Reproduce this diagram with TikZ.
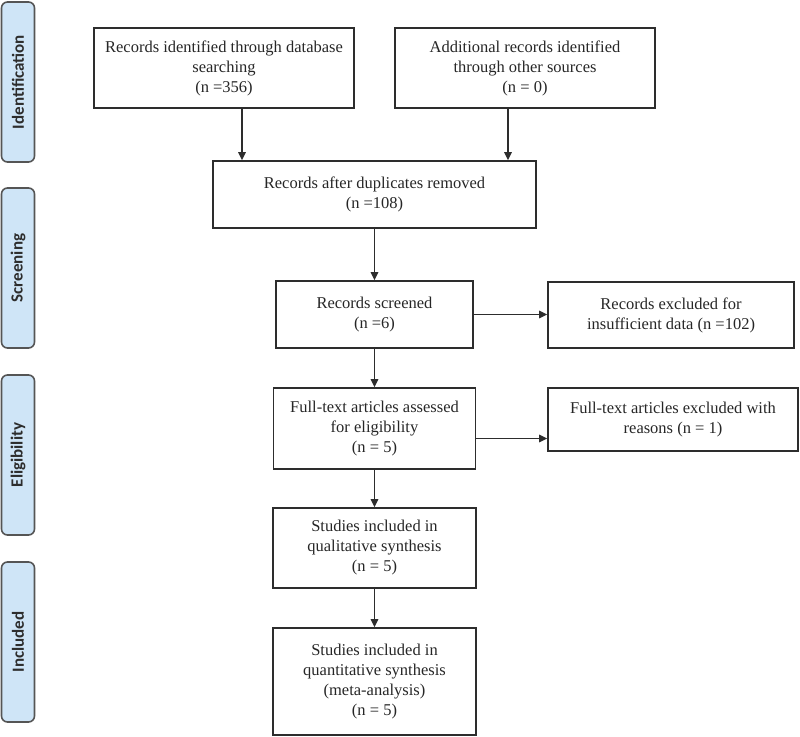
\documentclass[tikz,border=0pt]{standalone}
\usepackage{fontspec}
\setmainfont{Liberation Serif}
\newfontfamily\sidefont{Carlito}
\usetikzlibrary{arrows.meta}
\definecolor{sidefill}{RGB}{207,229,247}
\definecolor{sideline}{RGB}{85,85,85}
\definecolor{boxline}{RGB}{45,45,45}
\definecolor{sidetext}{RGB}{45,45,45}
\begin{document}
\begin{tikzpicture}[x=1pt,y=-1pt,
  box/.style={draw=boxline,line width=1.6pt,align=center,inner sep=2pt,
    font=\fontsize{16.5}{20}\selectfont,text=black!85},
  side/.style={draw=sideline,fill=sidefill,line width=1.6pt,rounded corners=6pt,
    minimum width=33pt,minimum height=160pt,inner sep=0pt},
  sidelabel/.style={rotate=90,font=\sidefont\bfseries\fontsize{17}{20}\selectfont,text=sidetext},
  arr/.style={draw=boxline,line width=1.5pt,-{Triangle[length=8pt,width=7.5pt]}}]
\useasboundingbox (0,0) rectangle (800,736);
% side bars
\node[side] (s1) at (18,82) {};
\node[sidelabel] (l1) at (s1.center) {Identification};
\node[side] (s2) at (18,268) {};
\node[sidelabel] (l2) at (s2.center) {Screening};
\node[side] (s3) at (18,455) {};
\node[sidelabel] (l3) at (s3.center) {Eligibility};
\node[side] (s4) at (18,642) {};
\node[sidelabel] (l4) at (s4.center) {Included};
% boxes
\node[box,minimum width=260pt,minimum height=80pt] (db) at (224,68)
  {Records identified through database\\searching\\(n =356)};
\node[box,minimum width=260pt,minimum height=80pt] (oth) at (525,68)
  {Additional records identified\\through other sources\\(n = 0)};
\node[box,minimum width=323pt,minimum height=67pt] (dup) at (374.5,194.5)
  {Records after duplicates removed\\(n =108)};
\node[box,minimum width=197pt,minimum height=67pt] (scr) at (374.5,314.5)
  {Records screened\\(n =6)};
\node[box,minimum width=246pt,minimum height=66pt] (ex1) at (671,315)
  {Records excluded for\\insufficient data (n =102)};
\node[box,minimum width=202pt,minimum height=81pt] (ft) at (374.5,428.5)
  {Full-text articles assessed\\for eligibility\\(n = 5)};
\node[box,minimum width=250pt,minimum height=63pt] (ex2) at (673,419.5)
  {Full-text articles excluded with\\reasons (n = 1)};
\node[box,minimum width=203pt,minimum height=80pt] (qual) at (374.5,548)
  {Studies included in\\qualitative synthesis\\(n = 5)};
\node[box,minimum width=203pt,minimum height=107pt] (quan) at (374.5,681.5)
  {Studies included in\\quantitative synthesis\\(meta-analysis)\\(n = 5)};
% connectors
\draw[arr] ([xshift=18pt]db.south) -- ([xshift=18pt]db.south |- dup.north);
\draw[arr] ([xshift=-17pt]oth.south) -- ([xshift=-17pt]oth.south |- dup.north);
\draw[arr] (dup) -- (scr);
\draw[arr] (scr.east) -- (scr.east -| ex1.west);
\draw[arr] (scr) -- (ft);
\draw[arr] ([yshift=-10pt]ft.east) -- ([yshift=-10pt]ft.east -| ex2.west);
\draw[arr] (ft) -- (qual);
\draw[arr] (qual) -- (quan);
\end{tikzpicture}
\end{document}
